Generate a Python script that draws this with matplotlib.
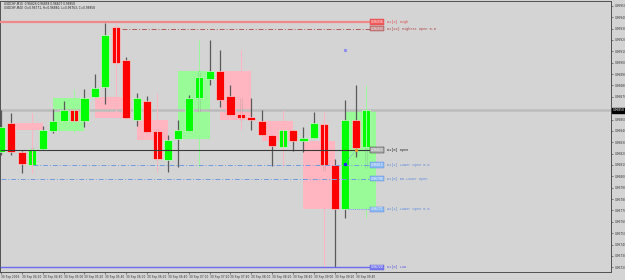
import matplotlib
matplotlib.use("Agg")
import matplotlib.pyplot as plt
import matplotlib.transforms as mtransforms
from matplotlib.patches import Rectangle

# USDCHF M10 candles, 30 Sep
opens = [0.96821, 0.96847, 0.96821, 0.96810, 0.96824, 0.96840, 0.96849, 0.96858, 0.96849, 0.96870,
         0.96879, 0.96931, 0.96902, 0.96850, 0.96866, 0.96840, 0.96814, 0.96833, 0.96840, 0.96869,
         0.96886, 0.96893, 0.96871, 0.96855, 0.96852, 0.96849, 0.96836, 0.96826, 0.96841, 0.96831,
         0.96834, 0.96846, 0.96810, 0.96771, 0.96850, 0.96826]
highs = [0.96858, 0.96856, 0.96822, 0.96826, 0.96844, 0.96859, 0.96866, 0.96858, 0.96877, 0.96890,
         0.96935, 0.96931, 0.96905, 0.96873, 0.96871, 0.96842, 0.96836, 0.96850, 0.96872, 0.96892,
         0.96920, 0.96911, 0.96880, 0.96869, 0.96869, 0.96858, 0.96836, 0.96841, 0.96841, 0.96843,
         0.96857, 0.96846, 0.96815, 0.96867, 0.96880, 0.96858]
lows = [0.96819, 0.96819, 0.96803, 0.96809, 0.96823, 0.96838, 0.96849, 0.96849, 0.96843, 0.96870,
        0.96864, 0.96900, 0.96851, 0.96844, 0.96839, 0.96814, 0.96804, 0.96808, 0.96840, 0.96857,
        0.96880, 0.96861, 0.96854, 0.96850, 0.96841, 0.96836, 0.96809, 0.96826, 0.96822, 0.96821,
        0.96834, 0.96805, 0.96720, 0.96763, 0.96817, 0.96807]
closes = [0.96843, 0.96821, 0.96811, 0.96824, 0.96841, 0.96849, 0.96858, 0.96849, 0.96869, 0.96878,
          0.96924, 0.96900, 0.96851, 0.96869, 0.96839, 0.96815, 0.96832, 0.96841, 0.96869, 0.96887,
          0.96893, 0.96867, 0.96854, 0.96851, 0.96850, 0.96836, 0.96827, 0.96841, 0.96831, 0.96834,
          0.96847, 0.96810, 0.96771, 0.96850, 0.96825, 0.96858]

time_labels = ["30 Sep 2016", "30 Sep 04:20", "30 Sep 04:40", "30 Sep 05:00", "30 Sep 05:20",
               "30 Sep 05:40", "30 Sep 06:00", "30 Sep 06:20", "30 Sep 06:40", "30 Sep 07:00",
               "30 Sep 07:20", "30 Sep 07:40", "30 Sep 08:00", "30 Sep 08:20", "30 Sep 08:40",
               "30 Sep 09:00", "30 Sep 09:20", "30 Sep 09:40"]

price_ticks = [0.96950, 0.96940, 0.96930, 0.96920, 0.96910, 0.96900, 0.96890, 0.96880,
               0.96870, 0.96860, 0.96850, 0.96840, 0.96830, 0.96820, 0.96810, 0.96800,
               0.96790, 0.96780, 0.96770, 0.96760, 0.96750, 0.96740, 0.96730, 0.96720]

level_names = ["D1[4] High", "D1[24] Highest Open 5.0", "D1[0] Open", "D1[1] Lower Open 5.0",
               "D1[0] DD Lower Open", "W1[1] Lower Open 5.0", "D1[0] Low"]
level_prices = [0.96936, 0.96930, 0.96823, 0.96810, 0.96798, 0.96771, 0.96720]

# start candle, line colour, style, width, box colour, text colour
level_styles = [
    (0, "#f08a8a", "-", 1.6, "#f05a5a", "#e04848"),
    (11.6, "#b05a5a", (0, (5, 2, 1, 2)), 0.7, "#c48484", "#b04040"),
    (0, "#3a3a3a", "-", 0.8, "#b0b0b0", "#202020"),
    (3.1, "#6f9be0", (0, (5, 2, 1, 2)), 0.7, "#8ab8f0", "#5a8ae0"),
    (0, "#6f9be0", (0, (5, 2, 1, 2)), 0.7, "#8ab8f0", "#5a8ae0"),
    (33.3, "#6f9be0", (0, (1, 1.2)), 0.7, "#8ab8f0", "#5a8ae0"),
    (0, "#6a6af0", "-", 1.0, "#7a7af0", "#5a5ae0"),
]

BG = "#d4d4d4"
UP = "#00ff00"
DOWN = "#ff0000"

fig = plt.figure(figsize=(6.25, 2.8), dpi=100, facecolor=BG)
ax = fig.add_axes([0.0, 0.0286, 0.9776, 0.9684], facecolor=BG)

px_per_bar = 10.43
px_per_price = 11.36 / 0.0001


def y_at(py):
    return 0.96950 - (py - 6) / px_per_price


ax.set_xlim(-1 / px_per_bar, 610 / px_per_bar)
ax.set_ylim(y_at(272), y_at(1))

n = len(closes)
xs = list(range(n))

# higher-timeframe (4 bar) bodies and wicks
for k in range(9):
    i0 = 4 * k + 1
    i1 = min(4 * k + 4, n - 1)
    o = opens[i0]
    c = closes[i1]
    hi = max(highs[i0:i1 + 1])
    lo = min(lows[i0:i1 + 1])
    col = "#98fb98" if c >= o else "#ffb6c1"
    ax.add_patch(Rectangle((i0, min(o, c)), 3, abs(c - o), fc=col, ec="none", zorder=1))
    ax.vlines(4 * k + 3, lo, hi, color=col, lw=0.7, zorder=4)

# current price line
ax.axhline(closes[-1], color="#bcbcbc", lw=1.8, zorder=2)

# candles
for i in xs:
    ax.vlines(i, lows[i], highs[i], color="#5a5a5a", lw=0.9, zorder=3)
bottoms = [min(o, c) for o, c in zip(opens, closes)]
heights = [max(abs(c - o), 0.000003) for o, c in zip(opens, closes)]
colors = [UP if c >= o else DOWN for o, c in zip(opens, closes)]
ax.bar(xs, heights, bottom=bottoms, width=0.78, color=colors, edgecolor="#f2f2f2",
       linewidth=0.4, zorder=3.5)

# small markers near the last bars
ax.plot([33.0, 34.0], [0.96811, 0.96823], ls=(0, (1, 1)), color="#7aa0e0", lw=0.6, zorder=5)
ax.plot(33.0, 0.96811, "s", ms=1.3, color="#2020ff", zorder=6)
ax.plot(34.0, 0.96823, "s", ms=1.0, color="#ff9a20", zorder=6)
ax.plot(33.0, 0.96911, "s", ms=1.3, color="#9090f0", zorder=6)

# levels with price boxes and descriptions
label_x = n - 0.62
for name, price, st in zip(level_names, level_prices, level_styles):
    x0, lc, ls, lw, box, tc = st
    ax.plot([x0, label_x], [price, price], color=lc, ls=ls, lw=lw, zorder=4.5)
    ax.text(label_x + 0.05, price, f"{price:.5f}", fontsize=2.2, color="white",
            ha="left", va="center", zorder=7, family="DejaVu Sans",
            bbox=dict(boxstyle="square,pad=0.25", fc=box, ec=tc, lw=0.3))
    ax.text(label_x + 1.6, price, name, fontsize=2.6, color=tc, ha="left", va="center",
            family="Liberation Mono", zorder=7)

# header
ax.text(3 / px_per_bar, y_at(4), f"USDCHF,M10  {opens[-1]:.5f} {highs[-1]:.5f} {lows[-1]:.5f} {closes[-1]:.5f}",
        fontsize=2.1, color="#202020", ha="left", va="center")
ax.text(3 / px_per_bar, y_at(8), f"USDCHF,M40  O=0.96771, H={max(highs[33:]):.5f}, L={min(lows[33:]):.5f}, C={closes[-1]:.5f}",
        fontsize=2.1, color="#202020", ha="left", va="center")

# axes
ax.yaxis.tick_right()
ax.set_yticks(price_ticks)
# the current-price box sits where the 0.96860 label would be
ax.set_yticklabels(["" if abs(p - closes[-1]) < 0.00005 else f"{p:.5f}" for p in price_ticks])
ax.set_xticks(list(range(0, n, 2)))
ax.set_xticklabels(time_labels, ha="left")
ax.tick_params(axis="both", labelsize=2.1, length=1.5, width=0.4, colors="#303030", pad=1)
for s in ax.spines.values():
    s.set_color("#505050")
    s.set_linewidth(0.7)

trans = mtransforms.blended_transform_factory(ax.transAxes, ax.transData)
ax.text(1.003, closes[-1], f"{closes[-1]:.5f}", transform=trans, fontsize=2.1, color="white",
        ha="left", va="center", zorder=8, bbox=dict(boxstyle="square,pad=0.3", fc="black", ec="black"))

fig.savefig("out.png", dpi=100, facecolor=BG)
